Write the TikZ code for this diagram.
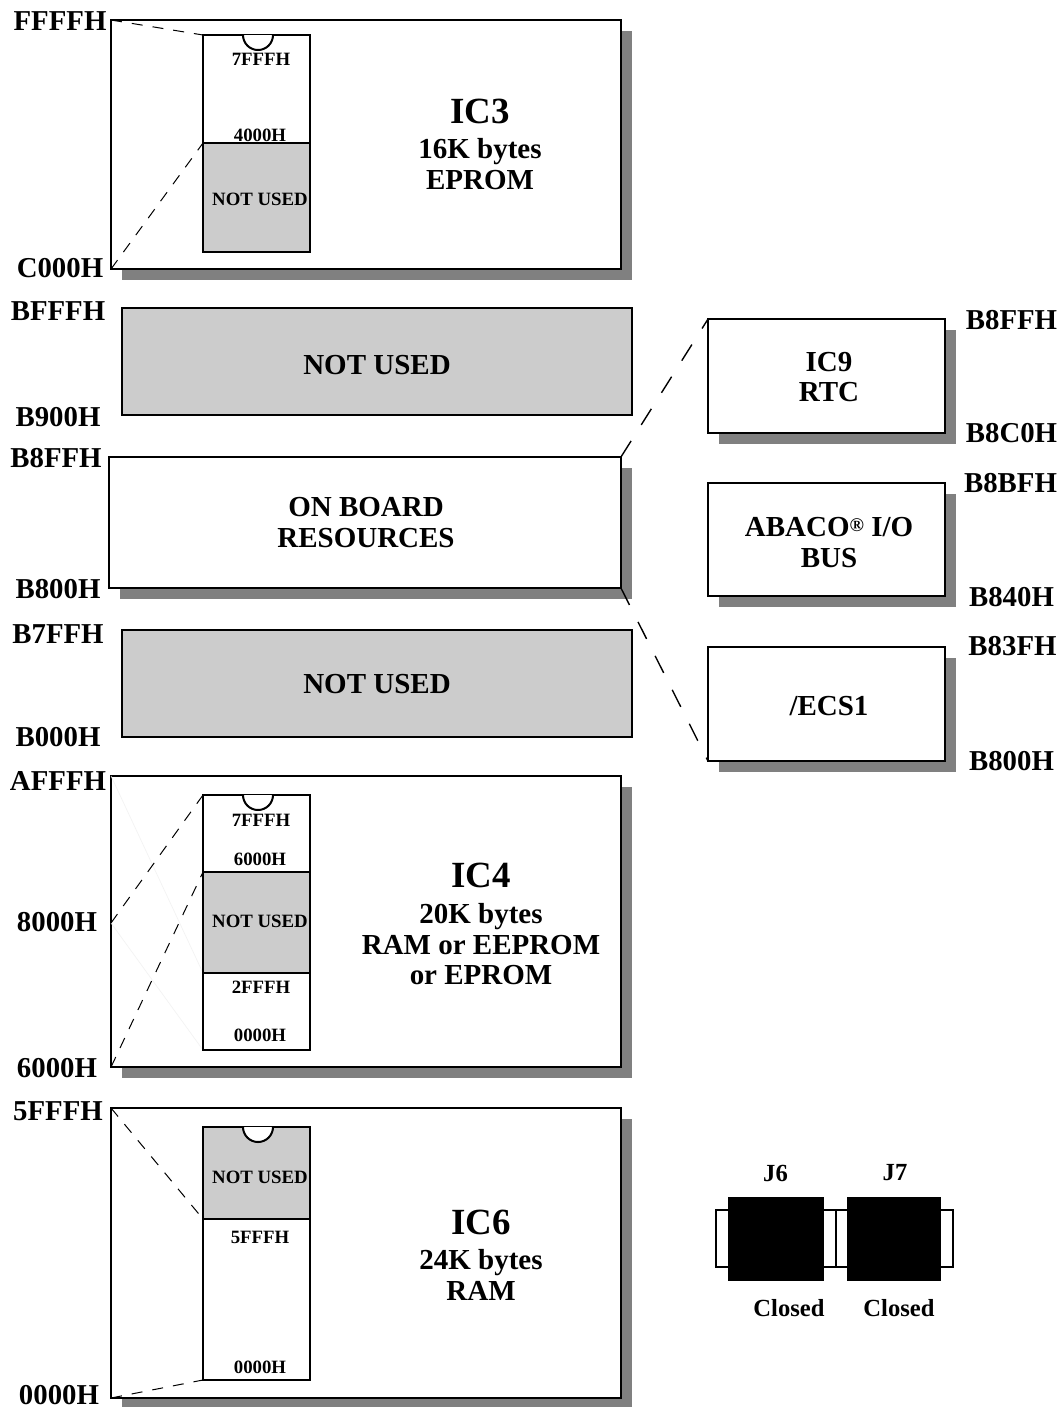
\documentclass[tikz,border=0pt]{standalone}
\usepackage{fontspec}
\setmainfont{Liberation Serif}
\usetikzlibrary{shadows,calc}
\definecolor{unusedGray}{RGB}{204,204,204}
\definecolor{shadowGray}{RGB}{128,128,128}
\tikzset{
    every node/.append style={align=center,font=\bfseries,outer sep=0pt,inner sep=0pt},
    memshadow/.style={drop shadow={shadow xshift=0.22cm,shadow yshift=-0.22cm,fill=shadowGray,opacity=1}},
    membox/.style={rectangle,draw=black,line width=0.04cm,fill=white,memshadow},
    unused/.style={rectangle,draw=black,line width=0.04cm,fill=unusedGray,minimum width=10.2cm,
        minimum height=2.14cm},
    sidebox/.style={membox,minimum width=4.74cm,minimum height=2.28cm},
    chip/.style={rectangle,draw=black,line width=0.04cm,fill=white,minimum width=2.14cm},
    chipused/.style={chip,fill=unusedGray},
    notch/.style={draw=black,line width=0.04cm,fill=white},
    addr/.style={font=\fontsize{16.4}{16.4}\selectfont\bfseries},
    chipaddr/.style={font=\fontsize{10.7}{10.7}\selectfont\bfseries},
    title/.style={font=\fontsize{16.5}{17.6}\selectfont\bfseries},
    jlabel/.style={font=\fontsize{14}{14}\selectfont\bfseries},
    pins/.style={rectangle,draw=black,line width=0.03cm,fill=white,minimum height=1.14cm},
    jcap/.style={rectangle,fill=black,minimum height=1.68cm},
    mapline/.style={draw=black,line width=0.02cm,dash pattern=on 0.22cm off 0.2cm},
    busline/.style={draw=black,line width=0.028cm,dash pattern=on 0.38cm off 0.38cm},
    ghost/.style={draw=black!5,line width=0.012cm}
}
\newcommand{\bigic}[1]{{\fontsize{21}{21}\selectfont #1}}
\begin{document}
\begin{tikzpicture}[x=0.02cm,y=-0.02cm]
    \useasboundingbox (0,0) rectangle (1063,1407);

    % memory map
    \node[membox,minimum width=10.2cm,minimum height=4.98cm]  (ic3)   at (366,144.5) {};
    \node[unused]                                             (gapa)  at (377,361.5) {};
    \node[membox,minimum width=10.24cm,minimum height=2.62cm] (board) at (365,522.5) {};
    \node[unused]                                             (gapb)  at (377,683.5) {};
    \node[membox,minimum width=10.2cm,minimum height=5.82cm]  (ic4)   at (366,921.5) {};
    \node[membox,minimum width=10.2cm,minimum height=5.8cm]   (ic6)   at (366,1253) {};

    % on board resources
    \node[sidebox] (rtc) at (826.5,376)   {};
    \node[sidebox] (bus) at (826.5,539.5) {};
    \node[sidebox] (ecs) at (826.5,704)   {};

    \coordinate (ic4mid) at (111,923);

    % very faint lines under the IC4 chip
    \draw[ghost] (ic4.north west) -- (203,973);
    \draw[ghost] (ic4mid) -- (203,1050);

    % chips
    \node[chip,minimum height=2.16cm]     (chipa)  at (256.5,89)    {};
    \node[chipused,minimum height=2.18cm] (chipab) at (256.5,197.5) {};
    \node[chip,minimum height=1.54cm]     (chipb)  at (256.5,833.5) {};
    \node[chipused,minimum height=2.02cm] (chipbb) at (256.5,922.5) {};
    \node[chip,minimum height=1.54cm]     (chipbc) at (256.5,1011.5) {};
    \node[chipused,minimum height=1.84cm] (chipc)  at (256.5,1173)  {};
    \node[chip,minimum height=3.22cm]     (chipcb) at (256.5,1299.5) {};

    \foreach \chipname in {chipa,chipb,chipc}
        \draw[notch] ($(\chipname.north)+(-13.5,0)$) arc[start angle=180,end angle=360,radius=0.3cm];

    \draw[mapline] (ic3.north west) -- (chipa.north west);
    \draw[mapline] (ic3.south west) -- (chipab.north west);
    \draw[mapline] (ic4mid) -- (chipb.north west);
    \draw[mapline] (ic4.south west) -- (chipbb.north west);
    \draw[mapline] (ic6.north west) -- (chipcb.north west);
    \draw[mapline] (ic6.south west) -- (chipcb.south west);
    \draw[busline] (board.north east) -- (rtc.north west);
    \draw[busline] (board.south east) -- (ecs.south west);

    % chip texts
    \node[chipaddr] (a7fff) at (261,59)   {7FFFH};
    \node[chipaddr] (a4000) at (260,135)  {4000H};
    \node[chipaddr] (anot)  at (260,199)  {NOT USED};
    \node[chipaddr] (b7fff) at (261,820)  {7FFFH};
    \node[chipaddr] (b6000) at (260,859)  {6000H};
    \node[chipaddr] (bnot)  at (260,921)  {NOT USED};
    \node[chipaddr] (b2fff) at (261,987)  {2FFFH};
    \node[chipaddr] (b0000) at (260,1035) {0000H};
    \node[chipaddr] (cnot)  at (260,1177) {NOT USED};
    \node[chipaddr] (c5fff) at (260,1237) {5FFFH};
    \node[chipaddr] (c0000) at (260,1367) {0000H};

    % titles
    \node[title] (ic3txt) at (480,144.3)  {\bigic{IC3}\\[2.6pt]16K bytes\\EPROM};
    \node[title] (ic4txt) at (481,924.2)  {\bigic{IC4}\\[2.6pt]20K bytes\\RAM or EEPROM\\or EPROM};
    \node[title] (ic6txt) at (481,1255.3) {\bigic{IC6}\\[2.6pt]24K bytes\\RAM};
    \node[title] (gapatxt)  at (377,365)   {NOT USED};
    \node[title] (gapbtxt)  at (377,684)   {NOT USED};
    \node[title] (boardtxt) at (366,522.5) {ON BOARD\\RESOURCES};
    \node[title] (rtctxt)   at (829,377)   {IC9\\RTC};
    \node[title] (bustxt)   at (829,542.5) {ABACO\raisebox{0.1cm}{\fontsize{11}{11}\selectfont ®} I/O\\BUS};
    \node[title] (ecstxt)   at (829,706)   {/ECS1};

    % addresses
    \node[addr] (lffff) at (60,21)     {FFFFH};
    \node[addr] (lc000) at (60,268)    {C000H};
    \node[addr] (lbfff) at (58,311)    {BFFFH};
    \node[addr] (lb900) at (58,417)    {B900H};
    \node[addr] (lb8ff) at (56,458)    {B8FFH};
    \node[addr] (lb800) at (58,589)    {B800H};
    \node[addr] (lb7ff) at (58,634)    {B7FFH};
    \node[addr] (lb000) at (58,737)    {B000H};
    \node[addr] (lafff) at (58,781)    {AFFFH};
    \node[addr] (l8000) at (57,922)    {8000H};
    \node[addr] (l6000) at (57,1068)   {6000H};
    \node[addr] (l5fff) at (58,1111)   {5FFFH};
    \node[addr] (l0000) at (59,1395.5) {0000H};
    \node[addr] (rb8ff) at (1011.5,320) {B8FFH};
    \node[addr] (rb8c0) at (1011.5,433) {B8C0H};
    \node[addr] (rb8bf) at (1010.5,483) {B8BFH};
    \node[addr] (rb840) at (1011.5,597) {B840H};
    \node[addr] (rb83f) at (1012.5,646) {B83FH};
    \node[addr] (rb800) at (1011.5,761) {B800H};

    % jumpers
    \node[pins,minimum width=2.4cm]  (pinsa) at (776,1238.5)   {};
    \node[pins,minimum width=2.34cm] (pinsb) at (894.5,1238.5) {};
    \node[jcap,minimum width=1.92cm] (capa)  at (776,1239)     {};
    \node[jcap,minimum width=1.88cm] (capb)  at (894,1239)     {};
    \node[jlabel] (jsix)    at (775.5,1173) {J6};
    \node[jlabel] (jseven)  at (895,1173) {J7};
    \node[jlabel] (closeda) at (789,1308) {Closed};
    \node[jlabel] (closedb) at (899,1308) {Closed};
\end{tikzpicture}
\end{document}
